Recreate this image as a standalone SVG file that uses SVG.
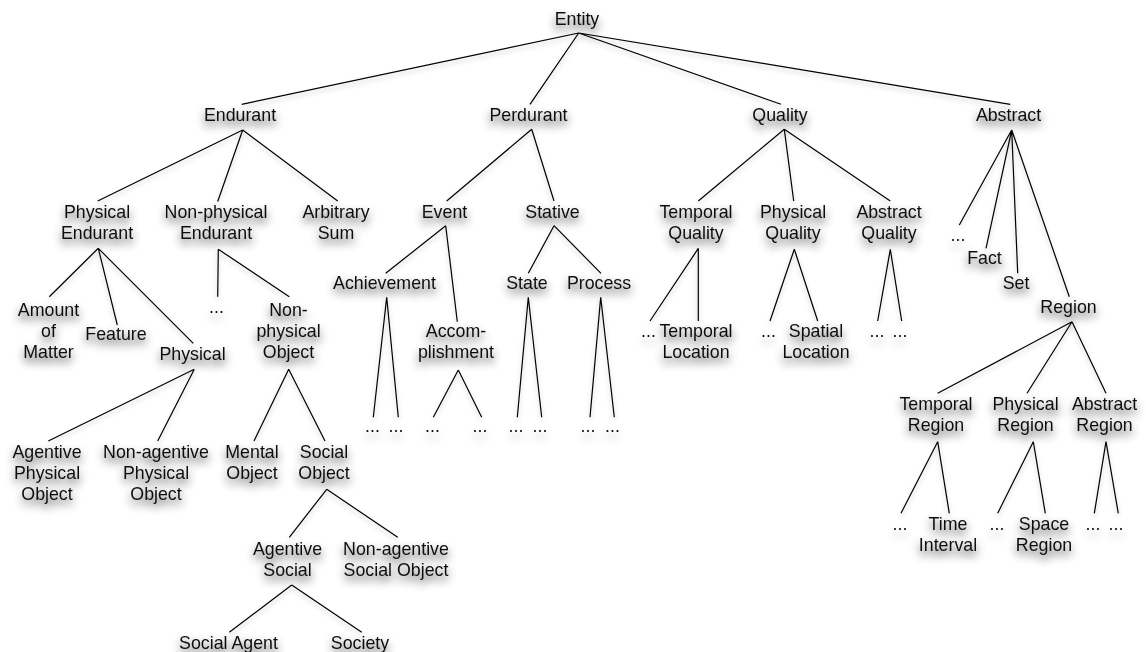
<svg xmlns="http://www.w3.org/2000/svg" width="1146" height="652" viewBox="0 0 1146 652">
<defs>
<filter id="sh" x="-50%" y="-60%" width="200%" height="260%">
<feGaussianBlur in="SourceAlpha" stdDeviation="5"/>
<feOffset dx="0" dy="5"/>
<feComponentTransfer><feFuncA type="linear" slope="0.75"/></feComponentTransfer>
<feMerge><feMergeNode/><feMergeNode in="SourceGraphic"/></feMerge>
</filter>
<filter id="lsh" x="-10%" y="-10%" width="120%" height="130%">
<feGaussianBlur in="SourceAlpha" stdDeviation="2.5"/>
<feOffset dx="0" dy="3"/>
<feComponentTransfer><feFuncA type="linear" slope="0.25"/></feComponentTransfer>
<feMerge><feMergeNode/><feMergeNode in="SourceGraphic"/></feMerge>
</filter>
</defs>
<style>
text{font-family:"Liberation Sans",Arial,Helvetica,sans-serif;font-size:17.8px;fill:#111;text-anchor:middle}
.c{fill:none;stroke:#000;stroke-width:1.2}
</style>
<rect width="1146" height="652" fill="#fff"/>
<g id="connectors" filter="url(#lsh)">
<path class="c" d="M578.7,33L241.7,104.3M578.7,33L530,104.3M578.7,33L781,104.3M578.7,33L1010.3,104.3"/>
<path class="c" d="M242.7,130L97.7,201M242.7,130L217.7,201.5M242.7,130L337.7,201"/>
<path class="c" d="M531.7,129.3L446.7,201M531.7,129.3L554,201"/>
<path class="c" d="M784.3,129.3L698.3,201M784.3,129.3L793.7,201M784.3,129.3L890.3,201"/>
<path class="c" d="M1011.7,130L959.3,225M1011.7,130L986,248.3M1011.7,130L1017.7,273.3M1011.7,130L1069.3,296.7"/>
<path class="c" d="M98.3,248.3L49.3,296.7M98.3,248.3L117.3,325M98.3,248.3L193.3,343.3"/>
<path class="c" d="M218.3,249.3L217.7,296.7M218.3,249.3L289.3,296.7"/>
<path class="c" d="M194.3,369.3L48.3,441M194.3,369.3L157.7,441"/>
<path class="c" d="M288.7,369.3L254,441M288.7,369.3L325,441"/>
<path class="c" d="M326.7,489.3L289.3,537.3M326.7,489.3L397.7,537.3"/>
<path class="c" d="M291.7,585L229.3,632.3M291.7,585L361.7,632.3"/>
<path class="c" d="M445.7,225.7L385.7,273.3M445.7,225.7L457.3,321.7"/>
<path class="c" d="M554,225.7L528.3,273.3M554,225.7L601,273.3"/>
<path class="c" d="M386.7,297.3L373.3,417.3M386.7,297.3L398.3,417.3"/>
<path class="c" d="M458.3,370L433.3,417.3M458.3,370L481.7,417.3"/>
<path class="c" d="M528.3,297.3L517.3,417.3M528.3,297.3L541.7,417.3"/>
<path class="c" d="M600.7,297.3L590,417.3M600.7,297.3L614.3,417.3"/>
<path class="c" d="M698.3,248.3L650,321M698.3,248.3L698.3,321"/>
<path class="c" d="M794.3,249.3L770,321M794.3,249.3L817.7,321"/>
<path class="c" d="M890.3,249.3L877.7,321M890.3,249.3L901.7,321"/>
<path class="c" d="M1072,321.7L937.7,393.3M1072,321.7L1027,393.3M1072,321.7L1106,393.3"/>
<path class="c" d="M937.7,441.7L901,513.3M937.7,441.7L949.3,513.3"/>
<path class="c" d="M1033.3,441.7L997.7,513.3M1033.3,441.7L1045.3,513.3"/>
<path class="c" d="M1106,441.7L1094.3,513.3M1106,441.7L1118.3,513.3"/>
</g>
<g id="nodes" filter="url(#sh)">
<g id="entity"><text x="577" y="25">Entity</text></g>
<g id="endurant"><text x="240" y="121">Endurant</text></g>
<g id="perdurant"><text x="528.5" y="121">Perdurant</text></g>
<g id="quality"><text x="780" y="121">Quality</text></g>
<g id="abstract"><text x="1008.5" y="121">Abstract</text></g>
<g id="physical-endurant"><text x="97" y="218">Physical</text><text x="97" y="239">Endurant</text></g>
<g id="nonphysical-endurant"><text x="216" y="218">Non-physical</text><text x="216" y="239">Endurant</text></g>
<g id="arbitrary-sum"><text x="336" y="218">Arbitrary</text><text x="336" y="239">Sum</text></g>
<g id="event"><text x="444.5" y="218">Event</text></g>
<g id="stative"><text x="552.5" y="218">Stative</text></g>
<g id="temporal-quality"><text x="696" y="218">Temporal</text><text x="696" y="239">Quality</text></g>
<g id="physical-quality"><text x="793" y="218">Physical</text><text x="793" y="239">Quality</text></g>
<g id="abstract-quality"><text x="889" y="218">Abstract</text><text x="889" y="239">Quality</text></g>
<g id="abstract-more"><text x="958" y="241">...</text></g>
<g id="fact"><text x="984.5" y="264">Fact</text></g>
<g id="set"><text x="1016" y="288.5">Set</text></g>
<g id="region"><text x="1068.5" y="313">Region</text></g>
<g id="amount-of-matter"><text x="48.5" y="316">Amount</text><text x="48.5" y="337">of</text><text x="48.5" y="358">Matter</text></g>
<g id="feature"><text x="116" y="340">Feature</text></g>
<g id="physical"><text x="192.5" y="360">Physical</text></g>
<g id="nonphysical-endurant-more"><text x="216.5" y="313">...</text></g>
<g id="nonphysical-object"><text x="288.5" y="316">Non-</text><text x="288.5" y="337">physical</text><text x="288.5" y="358">Object</text></g>
<g id="achievement"><text x="384.5" y="288.5">Achievement</text></g>
<g id="accomplishment"><text x="456" y="337">Accom-</text><text x="456" y="358">plishment</text></g>
<g id="state"><text x="527" y="288.5">State</text></g>
<g id="process"><text x="599" y="288.5">Process</text></g>
<g id="temporal-quality-more"><text x="648.5" y="337">...</text></g>
<g id="temporal-location"><text x="696" y="337">Temporal</text><text x="696" y="358">Location</text></g>
<g id="physical-quality-more"><text x="768.5" y="337">...</text></g>
<g id="spatial-location"><text x="816" y="337">Spatial</text><text x="816" y="358">Location</text></g>
<g id="abstract-quality-more-1"><text x="877" y="337">...</text></g>
<g id="abstract-quality-more-2"><text x="900" y="337">...</text></g>
<g id="agentive-physical-object"><text x="47" y="458">Agentive</text><text x="47" y="479">Physical</text><text x="47" y="500">Object</text></g>
<g id="nonagentive-physical-object"><text x="156" y="458">Non-agentive</text><text x="156" y="479">Physical</text><text x="156" y="500">Object</text></g>
<g id="mental-object"><text x="252" y="458">Mental</text><text x="252" y="479">Object</text></g>
<g id="social-object"><text x="324" y="458">Social</text><text x="324" y="479">Object</text></g>
<g id="achievement-more-1"><text x="372.5" y="432">...</text></g>
<g id="achievement-more-2"><text x="396" y="432">...</text></g>
<g id="accomplishment-more-1"><text x="432.5" y="432">...</text></g>
<g id="accomplishment-more-2"><text x="480" y="432">...</text></g>
<g id="state-more-1"><text x="516" y="432">...</text></g>
<g id="state-more-2"><text x="540" y="432">...</text></g>
<g id="process-more-1"><text x="588" y="432">...</text></g>
<g id="process-more-2"><text x="612.5" y="432">...</text></g>
<g id="temporal-region"><text x="936" y="410">Temporal</text><text x="936" y="431">Region</text></g>
<g id="physical-region"><text x="1025.5" y="410">Physical</text><text x="1025.5" y="431">Region</text></g>
<g id="abstract-region"><text x="1104.5" y="410">Abstract</text><text x="1104.5" y="431">Region</text></g>
<g id="temporal-region-more"><text x="900" y="530">...</text></g>
<g id="time-interval"><text x="948" y="530">Time</text><text x="948" y="551">Interval</text></g>
<g id="physical-region-more"><text x="997" y="530">...</text></g>
<g id="space-region"><text x="1044" y="530">Space</text><text x="1044" y="551">Region</text></g>
<g id="abstract-region-more-1"><text x="1093" y="530">...</text></g>
<g id="abstract-region-more-2"><text x="1116" y="530">...</text></g>
<g id="agentive-social"><text x="287.5" y="555">Agentive</text><text x="287.5" y="576">Social</text></g>
<g id="nonagentive-social-object"><text x="396" y="555">Non-agentive</text><text x="396" y="576">Social Object</text></g>
<g id="social-agent"><text x="228.5" y="649">Social Agent</text></g>
<g id="society"><text x="360" y="649">Society</text></g>
</g>
</svg>
